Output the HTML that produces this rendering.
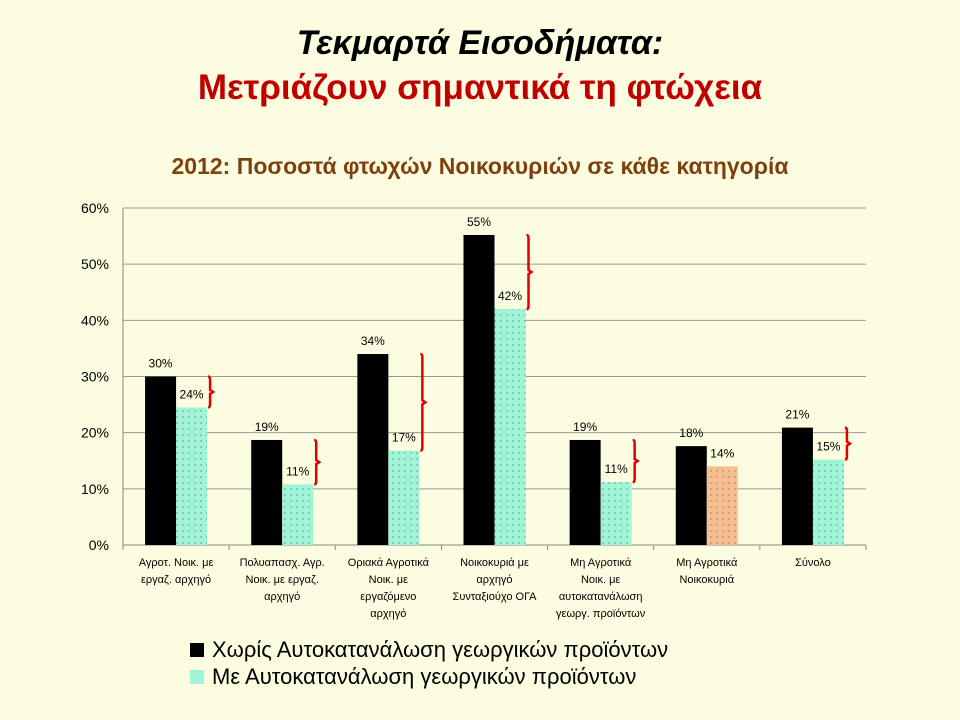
<!DOCTYPE html>
<html><head><meta charset="utf-8"><style>
body{margin:0;background:#fcfde0;font-family:"Liberation Sans","DejaVu Sans",sans-serif;}
#wrap{position:relative;width:960px;height:720px;overflow:hidden;background:#fcfde0}
.t{position:absolute;left:0;width:960px;text-align:center;font-weight:bold}
</style></head><body>
<div id="wrap">
<div class="t" style="top:24px;font-size:34px;font-style:italic;color:#000">Τεκμαρτά Εισοδήματα:</div>
<div class="t" style="top:68px;font-size:35px;color:#c00000">Μετριάζουν σημαντικά τη φτώχεια</div>
<div class="t" style="top:153px;font-size:23px;color:#7f4010">2012: Ποσοστά φτωχών Νοικοκυριών σε κάθε κατηγορία</div>
<svg id="chart" width="960" height="720" style="position:absolute;left:0;top:0">
<defs>
<pattern id="dg" width="6" height="6" patternUnits="userSpaceOnUse"><rect width="6" height="6" fill="#9ff5d6"/><circle cx="3" cy="3" r="0.6" fill="#557"/></pattern>
<pattern id="do" width="6" height="6" patternUnits="userSpaceOnUse"><rect width="6" height="6" fill="#f8be8e"/><circle cx="3" cy="3" r="0.6" fill="#557"/></pattern>
</defs>
<g id="g"></g>
</svg>
<div style="position:absolute;left:190px;top:639px;font-size:22px;line-height:22px"><span style="display:inline-block;width:14px;height:14px;background:#000;vertical-align:0px;margin-right:8px"></span>Χωρίς Αυτοκατανάλωση γεωργικών προϊόντων</div>
<div style="position:absolute;left:190px;top:666px;font-size:22px;line-height:22px"><span style="display:inline-block;width:14px;height:14px;background:#9ff5d6;vertical-align:0px;margin-right:8px"></span>Με Αυτοκατανάλωση γεωργικών προϊόντων</div>
</div>
<script>
const categories=[["Αγροτ. Νοικ. με","εργαζ. αρχηγό"],["Πολυαπασχ. Αγρ.","Νοικ. με εργαζ.","αρχηγό"],["Οριακά Αγροτικά","Νοικ. με","εργαζόμενο","αρχηγό"],["Νοικοκυριά με","αρχηγό","Συνταξιούχο ΟΓΑ"],["Μη Αγροτικά","Νοικ. με","αυτοκατανάλωση","γεωργ. προϊόντων"],["Μη Αγροτικά","Νοικοκυριά"],["Σύνολο"]];
const withoutVals=[30,18.7,34,55.2,18.7,17.6,20.9];
const withVals=[24.5,10.8,16.8,42,11.2,14,15.2];
const labelsWithout=["30%","19%","34%","55%","19%","18%","21%"];
const labelsWith=["24%","11%","17%","42%","11%","14%","15%"];
const ticks=[0,10,20,30,40,50,60];
const ns="http://www.w3.org/2000/svg",g=document.getElementById('g');
const x0=123,x1=866,y0=545,yTop=208,cw=(x1-x0)/categories.length;
const y=v=>y0-(v/60)*(y0-yTop);
function el(t,a,txt){const e=document.createElementNS(ns,t);for(const k in a)e.setAttribute(k,a[k]);if(txt!=null)e.textContent=txt;g.appendChild(e);return e;}
ticks.forEach(t=>{
 const l=el('line',{x1:x0,x2:x1,y1:y(t),y2:y(t),stroke:t?'#999':'#888','stroke-width':1});
 
 
 const tx=el('text',{x:x0-14,y:y(t)+5,'text-anchor':'end','font-size':14,fill:'#000'},t+'%');
 
 
});
el('line',{x1:x0,x2:x0,y1:yTop,y2:y0,stroke:'#888'});
for(let i=0;i<=categories.length;i++){el('line',{x1:x0+i*cw,x2:x0+i*cw,y1:y0,y2:y0+5,stroke:'#888'});}
categories.forEach((c,i)=>{
 const cx=x0+cw*(i+0.5),bw=31;
 const b1=el('rect',{x:cx-bw,y:y(withoutVals[i]),width:bw,height:y0-y(withoutVals[i]),fill:'#000'});
 
 
 const b2=el('rect',{x:cx,y:y(withVals[i]),width:bw,height:y0-y(withVals[i]),fill:i==5?'url(#do)':'url(#dg)'});
 
 
 const l1=el('text',{x:cx-bw/2,y:y(withoutVals[i])-9,'text-anchor':'middle','font-size':12},labelsWithout[i]);
 
 
 const l2=el('text',{x:cx+bw/2,y:y(withVals[i])-9,'text-anchor':'middle','font-size':12},labelsWith[i]);
 
 
 if(i!=5){
  const bx=cx+bw+3,ya=y(withoutVals[i]),yb=y(withVals[i]),ym=(ya+yb)/2;
  const br=el('path',{d:`M${bx-2},${ya} Q${bx},${ya} ${bx},${ya+3} L${bx},${ym-2} L${bx+3},${ym} L${bx},${ym+2} L${bx},${yb-3} Q${bx},${yb} ${bx-2},${yb}`,fill:'none',stroke:'#e00000','stroke-width':2.5});
  
  
 }
 c.forEach((ln,j)=>{
  const t=el('text',{x:cx,y:y0+21+j*17,'text-anchor':'middle','font-size':11},ln);
  
  
 });
});
</script>
</body></html>
